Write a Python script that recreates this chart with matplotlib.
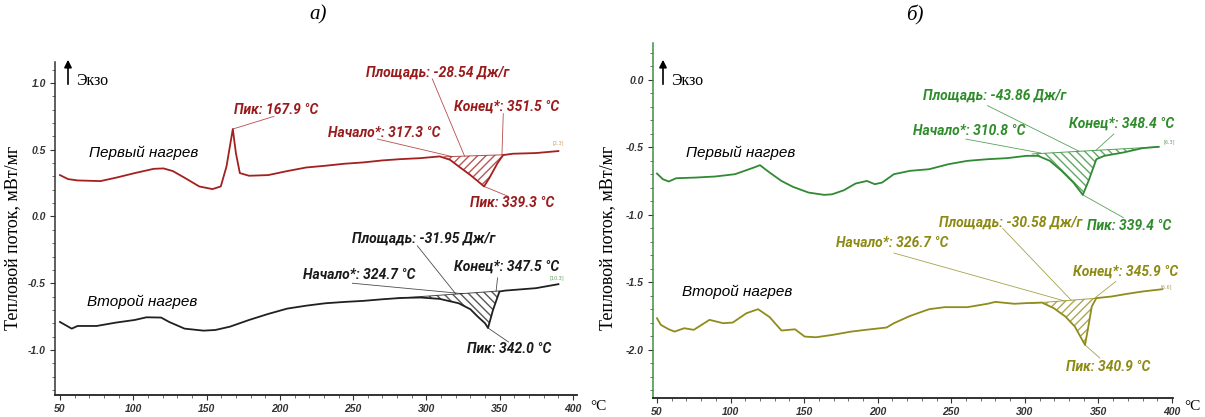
"""
plot.py -- DSC curves (first / second heating), two panels а) and б).
Values were read off the reference picture by eye.
"""

import numpy as np
import matplotlib
matplotlib.use("Agg")
import matplotlib.pyplot as plt
from matplotlib.patches import FancyArrowPatch
from matplotlib.ticker import MultipleLocator

# ----------------------------------------------------------------------------
# Data (temperature in °C, heat flow in mW/mg)
# ----------------------------------------------------------------------------
# а) first heating
T_A1 = [50, 55.5, 62, 77.6, 88, 101, 114, 120.6, 127, 135, 145, 154, 159.7,
        163.6, 167.9, 170, 172.7, 179, 192, 205, 218, 231, 244, 257, 270, 283,
        296, 309, 316, 322, 330, 335.5, 339.3, 343, 348.5, 352.3, 359, 374.6, 390]
Q_A1 = [0.31, 0.28, 0.27, 0.265, 0.29, 0.325, 0.357, 0.36, 0.34, 0.29, 0.225,
        0.205, 0.225, 0.375, 0.655, 0.475, 0.325, 0.305, 0.31, 0.34, 0.367, 0.38,
        0.395, 0.405, 0.42, 0.43, 0.437, 0.45, 0.425, 0.375, 0.31, 0.26, 0.225,
        0.29, 0.40, 0.46, 0.47, 0.475, 0.49]
BASE_A1 = ([312, 352.3], [0.447, 0.462])

# а) second heating
T_A2 = [50, 58, 62, 75, 88, 101, 109, 119, 124.5, 135, 148, 156, 166, 179, 192,
        205, 218, 231, 244, 257, 270, 283, 296, 309, 322, 330, 335, 340, 342,
        345.4, 349.8, 353.7, 374.6, 390]
Q_A2 = [-0.79, -0.84, -0.82, -0.82, -0.795, -0.775, -0.755, -0.757, -0.79, -0.84,
        -0.855, -0.85, -0.825, -0.775, -0.73, -0.69, -0.668, -0.65, -0.64, -0.632,
        -0.62, -0.61, -0.607, -0.617, -0.65, -0.695, -0.75, -0.80, -0.835, -0.70,
        -0.562, -0.555, -0.537, -0.507]
BASE_A2 = ([278, 349.5], [-0.614, -0.558])

# б) first heating
T_B1 = [50, 54, 58, 63, 76, 89.6, 103, 116, 120, 126.6, 134.6, 142.5, 153, 163.6,
        169, 177, 185, 192.7, 198, 203, 211, 222, 235, 248, 261, 274.6, 288, 301,
        309, 317, 325, 333, 339.4, 343.3, 348.6, 354, 367, 380, 391]
Q_B1 = [-0.693, -0.735, -0.752, -0.728, -0.723, -0.715, -0.698, -0.648, -0.631,
        -0.686, -0.748, -0.792, -0.834, -0.851, -0.847, -0.817, -0.767, -0.748,
        -0.772, -0.76, -0.698, -0.673, -0.661, -0.624, -0.599, -0.587, -0.579,
        -0.562, -0.562, -0.599, -0.673, -0.76, -0.851, -0.748, -0.587, -0.562,
        -0.537, -0.505, -0.495]
BASE_B1 = ([305, 391], [-0.548, -0.495])

# б) second heating
T_B2 = [50, 52.6, 58, 62, 68.5, 75, 85.7, 95, 101.5, 110.8, 118.7, 126.6, 134.6,
        143.8, 150.4, 158, 169, 182, 195, 206, 211, 222, 235, 245.6, 261, 274.6,
        280, 293, 301, 311.6, 319.6, 327.5, 334, 340.9, 342.8, 345.5, 348.6, 359,
        369.7, 380, 393.5]
Q_B2 = [-1.765, -1.814, -1.847, -1.864, -1.839, -1.851, -1.777, -1.802, -1.797,
        -1.728, -1.698, -1.757, -1.856, -1.847, -1.901, -1.906, -1.889, -1.864,
        -1.847, -1.834, -1.802, -1.748, -1.698, -1.683, -1.683, -1.658, -1.644,
        -1.658, -1.653, -1.649, -1.69, -1.752, -1.827, -1.963, -1.85, -1.678,
        -1.616, -1.604, -1.584, -1.567, -1.55]
BASE_B2 = ([304, 347.5], [-1.655, -1.618])

# Evaluation results shown on the curves
PEAKS_A1, AREA_A1, ONSET_A1, END_A1 = [167.9, 339.3], -28.54, 317.3, 351.5
PEAKS_A2, AREA_A2, ONSET_A2, END_A2 = [342.0], -31.95, 324.7, 347.5
PEAKS_B1, AREA_B1, ONSET_B1, END_B1 = [339.4], -43.86, 310.8, 348.4
PEAKS_B2, AREA_B2, ONSET_B2, END_B2 = [340.9], -30.58, 326.7, 345.9

NAMES = ["Первый нагрев", "Второй нагрев"]
PANEL_TITLES = ["а)", "б)"]
Y_LABEL = "Тепловой поток, мВт/мг"

# ----------------------------------------------------------------------------
# Style
# ----------------------------------------------------------------------------
W, H = 1205, 417
RED, RED_TXT = "#a3201f", "#9a1b1b"
BLACK, BLACK_TXT = "#202020", "#1a1a1a"
GREEN, GREEN_TXT = "#2f8a33", "#2e8c2a"
OLIVE, OLIVE_TXT = "#8f8c1c", "#8c8a12"

NARROW = ["Roboto", "Liberation Sans", "DejaVu Sans"]
SANS = ["Liberation Sans", "DejaVu Sans"]
SERIF = ["Liberation Serif", "DejaVu Serif"]

ANN_FONT = dict(family=NARROW, weight="bold", style="italic", fontsize=10)


def fx(px):
    return px / W


def fy(py):
    return 1 - py / H


def fmt(v):
    return f"{v:.1f} °C"


def draw_curve(ax, t, q, base, color, hatch):
    ax.plot(t, q, color=color, lw=1.3, zorder=3)
    # hatched integration area between baseline and the curve
    bt, bq = base
    inner = [(a, b) for a, b in zip(t, q) if bt[0] < a < bt[1]]
    xs = [bt[0]] + [p[0] for p in inner] + [bt[1]]
    ys = [bq[0]] + [p[1] for p in inner] + [bq[1]]
    ax.fill(xs, ys, facecolor="none", edgecolor=color, hatch=hatch,
            lw=0, alpha=0.75, zorder=2)
    ax.plot(bt, bq, color=color, lw=0.7, alpha=0.8, zorder=2)


def annotate(ax, text, txy, start, end, color, txtcolor):
    ax.text(txy[0], txy[1], text, color=txtcolor, ha="left", va="center",
            zorder=5, **ANN_FONT)
    ax.plot([start[0], end[0]], [start[1], end[1]], color=color, lw=0.6,
            alpha=0.8, zorder=4)


def style_axes(ax, xlim, ylim, yspine_color):
    ax.set_xlim(*xlim)
    ax.set_ylim(*ylim)
    for s in ("top", "right"):
        ax.spines[s].set_visible(False)
    ax.spines["left"].set_color(yspine_color)
    ax.spines["bottom"].set_color("#222222")
    ax.spines["left"].set_linewidth(1.1)
    ax.spines["bottom"].set_linewidth(1.3)
    ax.xaxis.set_major_locator(MultipleLocator(50))
    ax.xaxis.set_minor_locator(MultipleLocator(10))
    ax.yaxis.set_major_locator(MultipleLocator(0.5))
    ax.yaxis.set_minor_locator(MultipleLocator(0.1))
    ax.yaxis.set_major_formatter(plt.FuncFormatter(lambda v, p: f"{v:.1f}"))
    ax.tick_params(which="major", length=3.5, width=0.8, colors="#333333",
                   labelsize=7.5, pad=3)
    ax.tick_params(which="minor", length=2, width=0.6, colors="#555555")
    for lab in ax.get_xticklabels() + ax.get_yticklabels():
        lab.set_fontweight("bold")
        lab.set_fontstyle("italic")
        lab.set_family(SANS)


def series_name(ax, x, y, text):
    ax.text(x, y, text, style="italic", fontsize=11, family=SANS, va="center")


# ----------------------------------------------------------------------------
# Figure
# ----------------------------------------------------------------------------
fig = plt.figure(figsize=(W / 100, H / 100), dpi=100)
ax_a = fig.add_axes([fx(55), fy(395), fx(577) - fx(55), fy(62) - fy(395)])
ax_b = fig.add_axes([fx(653), fy(398), fx(1173) - fx(653), fy(43) - fy(398)])

# ----- panel а) -----
draw_curve(ax_a, T_A1, Q_A1, BASE_A1, RED, "////")
draw_curve(ax_a, T_A2, Q_A2, BASE_A2, BLACK, "\\\\\\\\")

annotate(ax_a, f"Пик: {fmt(PEAKS_A1[0])}", (169, 0.80), (196, 0.75),
         (PEAKS_A1[0], 0.655), RED, RED_TXT)
annotate(ax_a, f"Площадь: {AREA_A1:.2f} Дж/г", (258.6, 1.075), (304, 1.03),
         (326, 0.452), RED, RED_TXT)
annotate(ax_a, f"Конец*: {fmt(END_A1)}", (318.6, 0.825), (352.4, 0.77),
         (END_A1, 0.462), RED, RED_TXT)
annotate(ax_a, f"Начало*: {fmt(ONSET_A1)}", (232.6, 0.625), (266.5, 0.58),
         (ONSET_A1, 0.449), RED, RED_TXT)
annotate(ax_a, f"Пик: {fmt(PEAKS_A1[1])}", (330, 0.10), (356, 0.15),
         (PEAKS_A1[1], 0.225), RED, RED_TXT)

annotate(ax_a, f"Площадь: {AREA_A2:.2f} Дж/г", (249.5, -0.163), (293.8, -0.22),
         (320, -0.58), BLACK, BLACK_TXT)
annotate(ax_a, f"Конец*: {fmt(END_A2)}", (318.6, -0.375), (348.5, -0.46),
         (END_A2, -0.56), BLACK, BLACK_TXT)
annotate(ax_a, f"Начало*: {fmt(ONSET_A2)}", (215.7, -0.437), (249.5, -0.50),
         (ONSET_A2, -0.578), BLACK, BLACK_TXT)
annotate(ax_a, f"Пик: {fmt(PEAKS_A2[0])}", (327.7, -0.99), (356, -0.94),
         (PEAKS_A2[0], -0.835), BLACK, BLACK_TXT)

series_name(ax_a, 70, 0.475, NAMES[0])
series_name(ax_a, 68.5, -0.64, NAMES[1])
ax_a.text(386, 0.54, "[2.3]", fontsize=3.5, color="#c8a060")
ax_a.text(384, -0.47, "[10.3]", fontsize=3.5, color="#60a060")

style_axes(ax_a, (46.6, 402.7), (-1.337, 1.157), "#333333")

# ----- panel б) -----
draw_curve(ax_b, T_B1, Q_B1, BASE_B1, GREEN, "\\\\\\\\")
draw_curve(ax_b, T_B2, Q_B2, BASE_B2, OLIVE, "////")

annotate(ax_b, f"Площадь: {AREA_B1:.2f} Дж/г", (231, -0.116), (274.6, -0.19),
         (336.7, -0.527), GREEN, GREEN_TXT)
annotate(ax_b, f"Начало*: {fmt(ONSET_B1)}", (224, -0.376), (260, -0.438),
         (ONSET_B1, -0.541), GREEN, GREEN_TXT)
annotate(ax_b, f"Конец*: {fmt(END_B1)}", (330, -0.327), (360.5, -0.40),
         (END_B1, -0.52), GREEN, GREEN_TXT)
annotate(ax_b, f"Пик: {fmt(PEAKS_B1[0])}", (342, -1.08), (367, -1.02),
         (PEAKS_B1[0], -0.851), GREEN, GREEN_TXT)

annotate(ax_b, f"Площадь: {AREA_B2:.2f} Дж/г", (241.6, -1.057), (285, -1.10),
         (331.5, -1.631), OLIVE, OLIVE_TXT)
annotate(ax_b, f"Начало*: {fmt(ONSET_B2)}", (171.6, -1.208), (211, -1.282),
         (ONSET_B2, -1.636), OLIVE, OLIVE_TXT)
annotate(ax_b, f"Конец*: {fmt(END_B2)}", (332.8, -1.418), (361.8, -1.493),
         (347, -1.62), OLIVE, OLIVE_TXT)
annotate(ax_b, f"Пик: {fmt(PEAKS_B2[0])}", (327.7, -2.124), (351, -2.06),
         (PEAKS_B2[0], -1.963), OLIVE, OLIVE_TXT)

series_name(ax_b, 70, -0.537, NAMES[0])
series_name(ax_b, 67, -1.567, NAMES[1])
ax_b.text(394, -0.47, "[6.3]", fontsize=3.5, color="#60a060")
ax_b.text(392, -1.54, "[6.6]", fontsize=3.5, color="#a0a060")

style_axes(ax_b, (47.3, 400.7), (-2.356, 0.274), "#3f8f3f")

# ----- figure-level texts -----
for x_ax, x_arrow in ((13, 68), (608, 663)):
    fig.text(fx(x_ax), fy(238), Y_LABEL, rotation=90, ha="center", va="center",
             family=SERIF, fontsize=13)
    fig.patches.append(FancyArrowPatch(
        (fx(x_arrow), fy(87)), (fx(x_arrow), fy(57)), transform=fig.transFigure,
        arrowstyle="-|>", mutation_scale=11, lw=1.2, color="black"))
    fig.text(fx(x_arrow + 8), fy(81), "Экзо", ha="left", va="center",
             family=SERIF, fontsize=11.5)

for x_c, title in zip((318, 915), PANEL_TITLES):
    fig.text(fx(x_c), fy(15), title, ha="center", va="center", family=SERIF,
             style="italic", fontsize=15)

fig.text(fx(590), fy(407), "°C", ha="left", va="center", family=SERIF,
         fontsize=11)
fig.text(fx(1184), fy(407), "°C", ha="left", va="center", family=SERIF,
         fontsize=11)

fig.savefig("out.png", dpi=100)
